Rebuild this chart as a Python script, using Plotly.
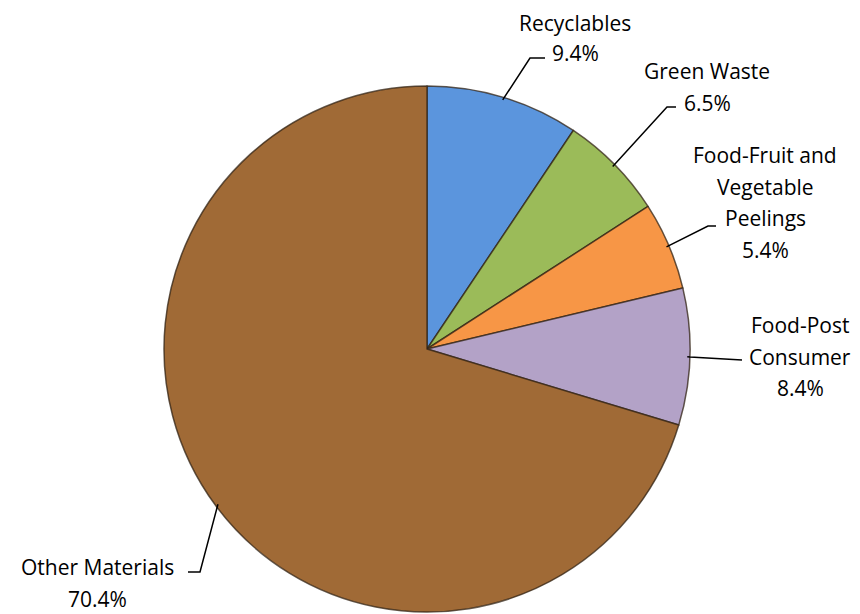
import math
import plotly.graph_objects as go

# ---- data ----
categories = ["Recyclables", "Green Waste", "Food-Fruit and Vegetable Peelings",
              "Food-Post Consumer", "Other Materials"]
values = [9.4, 6.5, 5.4, 8.4, 70.4]
pct_labels = ["9.4%", "6.5%", "5.4%", "8.4%", "70.4%"]
label_lines = [["Recyclables"], ["Green Waste"],
               ["Food-Fruit and", "Vegetable", "Peelings"],
               ["Food-Post", "Consumer"], ["Other Materials"]]
colors = ["#5b95dd", "#9bbb59", "#f79646", "#b3a2c7", "#a06a36"]

# ---- layout (page pixels; page body has an 8px margin) ----
OFF = 8
W, H = 860 - OFF, 614 - OFF
CX, CY, R = 427, 349, 263
# elbow point, end of horizontal leader, text centre x, first line centre y, line spacing
label_pos = [
    ((530, 58), (545, 58), 575, 23.5, 29.5),
    ((667, 107), (676, 107), 707, 71, 31.5),
    ((708, 226), (716, 226), 765, 155, 31.5),
    ((690, 357), (742, 360), 800, 325, 31.5),
    ((200, 572), (188, 572), 97, 567, 31.5),
]
FONT = dict(family="'Open Sans', Lato, sans-serif", size=21, color="#000000")


def px(x):
    return (x - OFF) / W


def py(y):
    return 1 - (y - OFF) / H


fig = go.Figure(go.Pie(
    labels=categories, values=values, sort=False, direction="clockwise",
    rotation=0, textinfo="none", hoverinfo="label+percent",
    marker=dict(colors=colors, line=dict(color="rgba(50,35,20,0.75)", width=1.5)),
    domain=dict(x=[px(CX - R), px(CX + R)], y=[py(CY + R), py(CY - R)]),
    showlegend=False,
))

total = sum(values)
cum = 0.0
shapes, annotations = [], []
for i, v in enumerate(values):
    mid = (cum + v / 2) / total * 2 * math.pi
    cum += v
    sx = CX + R * 0.99 * math.sin(mid)
    sy = CY - R * 0.99 * math.cos(mid)
    (ex, ey), (hx, hy), tx, ty, lh = label_pos[i]
    shapes.append(dict(type="path", xref="paper", yref="paper",
                       path=f"M {px(sx)},{py(sy)} L {px(ex)},{py(ey)} L {px(hx)},{py(hy)}",
                       line=dict(color="black", width=1.5)))
    lines = label_lines[i] + [pct_labels[i]]
    for j, t in enumerate(lines):
        annotations.append(dict(text=t, x=px(tx), y=py(ty + j * lh), xref="paper",
                                yref="paper", xanchor="center", yanchor="middle",
                                showarrow=False, font=FONT))

fig.update_layout(width=W, height=H, margin=dict(l=0, r=0, t=0, b=0),
                  paper_bgcolor="white", plot_bgcolor="white",
                  shapes=shapes, annotations=annotations)
fig.write_html("out.html")
